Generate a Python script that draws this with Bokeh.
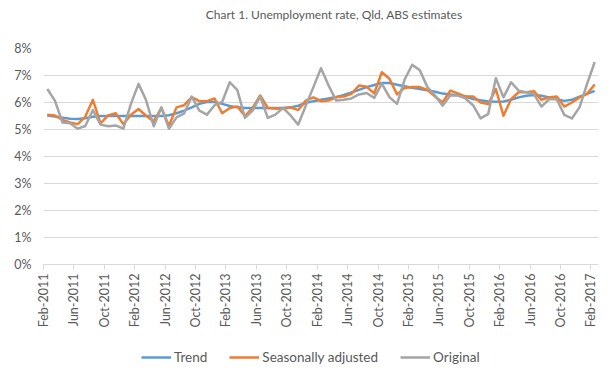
import math
from bokeh.plotting import figure
from bokeh.layouts import column
from bokeh.models import FixedTicker, Legend, LegendItem, Range1d, Label
from bokeh.embed import file_html
from bokeh.resources import INLINE

# Monthly data Feb-2011 .. Feb-2017 (73 months), unemployment rate in %
trend = [5.52, 5.48, 5.44, 5.40, 5.39, 5.42, 5.47, 5.50, 5.50, 5.50,
         5.50, 5.50, 5.50, 5.50, 5.50, 5.50, 5.53, 5.60, 5.70, 5.82,
         5.95, 6.02, 6.02, 5.95, 5.87, 5.82, 5.80, 5.80, 5.80, 5.80,
         5.80, 5.80, 5.82, 5.88, 5.98, 6.05, 6.10, 6.15, 6.20, 6.28,
         6.37, 6.47, 6.57, 6.65, 6.72, 6.72, 6.66, 6.60, 6.55, 6.50,
         6.45, 6.40, 6.33, 6.30, 6.27, 6.22, 6.13, 6.08, 6.04, 6.03,
         6.04, 6.10, 6.19, 6.25, 6.28, 6.25, 6.19, 6.12, 6.06, 6.10,
         6.22, 6.32, 6.43]

seasonally_adjusted = [5.55, 5.52, 5.35, 5.26, 5.20, 5.48, 6.10, 5.23, 5.52, 5.60,
                       5.20, 5.55, 5.76, 5.51, 5.30, 5.80, 5.14, 5.82, 5.90, 6.20,
                       6.05, 6.05, 6.15, 5.60, 5.80, 5.85, 5.50, 5.80, 6.26, 5.80,
                       5.78, 5.76, 5.82, 5.72, 6.07, 6.19, 6.05, 6.07, 6.20, 6.22,
                       6.32, 6.63, 6.58, 6.34, 7.12, 6.88, 6.30, 6.54, 6.57, 6.57,
                       6.47, 6.22, 6.00, 6.44, 6.34, 6.22, 6.22, 6.00, 5.94, 6.50,
                       5.51, 6.12, 6.38, 6.38, 6.42, 6.10, 6.19, 6.22, 5.85, 6.00,
                       6.19, 6.32, 6.67]

original = [6.50, 6.07, 5.26, 5.23, 5.03, 5.13, 5.72, 5.18, 5.12, 5.15,
            5.03, 5.95, 6.69, 6.08, 5.12, 5.82, 5.03, 5.45, 5.60, 6.22,
            5.70, 5.55, 5.90, 6.02, 6.75, 6.46, 5.43, 5.70, 6.22, 5.43,
            5.55, 5.80, 5.52, 5.18, 5.88, 6.57, 7.27, 6.63, 6.07, 6.10,
            6.15, 6.30, 6.35, 6.17, 6.70, 6.20, 5.95, 6.85, 7.40, 7.19,
            6.57, 6.26, 5.88, 6.26, 6.26, 6.15, 5.90, 5.41, 5.58, 6.90,
            6.19, 6.75, 6.44, 6.38, 6.32, 5.85, 6.12, 6.12, 5.54, 5.41,
            5.82, 6.69, 7.50]

x_tick_labels = ["Feb-2011", "Jun-2011", "Oct-2011", "Feb-2012", "Jun-2012",
                 "Oct-2012", "Feb-2013", "Jun-2013", "Oct-2013", "Feb-2014",
                 "Jun-2014", "Oct-2014", "Feb-2015", "Jun-2015", "Oct-2015",
                 "Feb-2016", "Jun-2016", "Oct-2016", "Feb-2017"]
label_every = 4
y_ticks = [0, 1, 2, 3, 4, 5, 6, 7, 8]
y_labels = ["0%", "1%", "2%", "3%", "4%", "5%", "6%", "7%", "8%"]

title_text = "Chart 1. Unemployment  rate, Qld, ABS estimates"
series_names = ["Trend", "Seasonally adjusted", "Original"]
series_colors = ["#5B9BD5", "#ED7D31", "#A5A5A5"]
series_data = [trend, seasonally_adjusted, original]

FONT = "Lato"
TXT = "#595959"
GRID = "#D9D9D9"
W = 605
FRAME_L, FRAME_R = 43, 7

n = len(trend)
x = list(range(n))


def strip(height):
    s = figure(width=W, height=height, output_backend="svg", toolbar_location=None,
               x_axis_type=None, y_axis_type=None,
               x_range=Range1d(0, W), y_range=Range1d(0, height),
               min_border_left=0, min_border_right=0, min_border_top=0,
               min_border_bottom=0)
    s.outline_line_color = None
    s.background_fill_color = "white"
    s.border_fill_color = "white"
    return s


# ---------------- title strip ----------------
pt = strip(28)
pt.add_layout(Label(x=FRAME_L + (W - FRAME_L - FRAME_R) / 2 - 2, y=14, text=title_text,
                    text_align="center", text_baseline="middle",
                    text_font=FONT, text_font_size="12px", text_color=TXT))

# ---------------- main chart ----------------
p = figure(width=W, height=315, output_backend="svg", toolbar_location=None,
           x_range=Range1d(-0.5, n - 0.5), y_range=Range1d(y_ticks[0], y_ticks[-1]),
           min_border_left=FRAME_L, min_border_right=FRAME_R, min_border_top=20,
           min_border_bottom=79)
p.outline_line_color = None
p.background_fill_color = "white"
p.border_fill_color = "white"

for ys, c in zip(series_data, series_colors):
    p.line(x, ys, line_color=c, line_width=2.5, line_join="round")

# x axis
tick_pos = [i - 0.5 for i in range(0, n, label_every)]
p.xaxis.ticker = FixedTicker(ticks=tick_pos)
p.xaxis.major_label_overrides = {t: lab for t, lab in zip(tick_pos, x_tick_labels)}
p.xaxis.major_label_orientation = math.pi / 2
p.xaxis.major_label_text_font = FONT
p.xaxis.major_label_text_font_size = "12.5px"
p.xaxis.major_label_text_color = TXT
p.xaxis.major_label_standoff = 4
p.xaxis.axis_line_color = GRID
p.xaxis.major_tick_line_color = GRID
p.xaxis.major_tick_out = 5
p.xaxis.major_tick_in = 0
p.xaxis.minor_tick_line_color = None

# y axis
p.yaxis.ticker = FixedTicker(ticks=y_ticks)
p.yaxis.major_label_overrides = {t: lab for t, lab in zip(y_ticks, y_labels)}
p.yaxis.major_label_text_font = FONT
p.yaxis.major_label_text_font_size = "12.5px"
p.yaxis.major_label_text_color = TXT
p.yaxis.axis_line_color = None
p.yaxis.major_tick_line_color = None
p.yaxis.minor_tick_line_color = None
p.yaxis.major_tick_out = 0
p.yaxis.major_label_standoff = 12

p.xgrid.grid_line_color = None
p.ygrid.grid_line_color = GRID
p.ygrid.ticker = FixedTicker(ticks=y_ticks)

# ---------------- legend strip ----------------
pl = figure(width=W, height=26, output_backend="svg", toolbar_location=None,
            x_axis_type=None, y_axis_type=None,
            x_range=Range1d(-200, -199), y_range=Range1d(0, 1),
            min_border_left=0, min_border_right=0, min_border_top=0,
            min_border_bottom=0)
pl.outline_line_color = None
pl.background_fill_color = "white"
pl.border_fill_color = "white"

leg_renderers = []
for ys, c in zip(series_data, series_colors):
    leg_renderers.append(pl.line(x, ys, line_color=c, line_width=2.5))

legend = Legend(items=[LegendItem(label=nm, renderers=[r]) for nm, r in zip(series_names, leg_renderers)],
                orientation="horizontal", location=(98, 4))
legend.border_line_color = None
legend.background_fill_alpha = 0
legend.label_text_font = FONT
legend.label_text_font_size = "13.5px"
legend.label_text_color = TXT
legend.glyph_width = 30
legend.glyph_height = 16
legend.label_standoff = 3
legend.spacing = 22
legend.padding = 2
legend.margin = 0
pl.add_layout(legend)

layout = column(pt, p, pl, spacing=0)
open("out.html", "w").write(file_html(layout, INLINE))
